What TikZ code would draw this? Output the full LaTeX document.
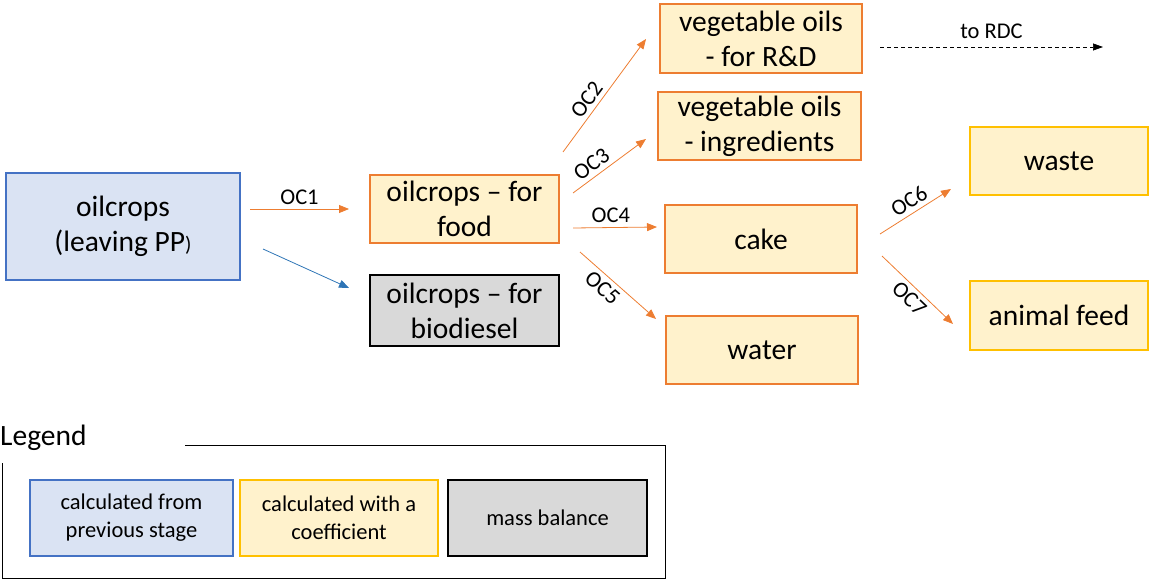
\documentclass[tikz,border=0pt]{standalone}
\usepackage{fontspec}
\setmainfont{Carlito}
\usetikzlibrary{arrows.meta}
\definecolor{bluefill}{HTML}{DAE3F3}
\definecolor{blueline}{HTML}{4472C4}
\definecolor{creamfill}{HTML}{FFF2CC}
\definecolor{orangeline}{HTML}{ED7D31}
\definecolor{goldline}{HTML}{FFC000}
\definecolor{grayfill}{HTML}{D9D9D9}
\definecolor{arrowblue}{HTML}{2E75B6}
\begin{document}
\begin{tikzpicture}[x=1pt,y=-1pt,
  box/.style={line width=1.3pt, align=center, inner sep=0pt,
    font=\fontsize{29.5}{35}\selectfont},
  prevbox/.style={box, draw=blueline, fill=bluefill},
  coefbox/.style={box, draw=orangeline, fill=creamfill},
  goldbox/.style={box, draw=goldline, fill=creamfill},
  massbox/.style={box, draw=black, fill=grayfill},
  legbox/.style={line width=1.3pt, align=center, inner sep=0pt,
    minimum height=76, font=\fontsize{22.5}{28}\selectfont},
  flow/.style={line width=0.8pt, draw=orangeline,
    -{Triangle[length=10pt,width=8pt]}},
  oclabel/.style={font=\fontsize{22.5}{24}\selectfont, inner sep=4pt}]
\useasboundingbox (0,0) rectangle (1150,580);

% process stages
\node[prevbox, minimum width=234, minimum height=107] (pp) at (123,226.5)
  {oilcrops\\(leaving PP{\fontsize{21}{22}\selectfont)}};
\node[coefbox, minimum width=189, minimum height=68] (food) at (464.5,209)
  {oilcrops -- for\\food};
\node[massbox, minimum width=189, minimum height=71] (bio) at (464.5,310.5)
  {oilcrops -- for\\biodiesel};
\node[coefbox, minimum width=202, minimum height=69] (rd) at (761,38.5)
  {vegetable oils\\- for R\&D};
\node[coefbox, minimum width=203, minimum height=68] (ingr) at (759.5,126)
  {vegetable oils\\- ingredients};
\node[coefbox, minimum width=192, minimum height=68] (cake) at (761,239)
  {cake};
\node[coefbox, minimum width=192, minimum height=68] (water) at (762,350)
  {water};
\node[goldbox, minimum width=178, minimum height=68] (waste) at (1059,161)
  {waste};
\node[goldbox, minimum width=178, minimum height=69] (feed) at (1059,315.5)
  {animal feed};

% connector end points
\coordinate (oc1s) at (250,209);  \coordinate (oc1e) at (349,209);
\coordinate (bls)  at (263,249);  \coordinate (ble)  at (349,288);
\coordinate (oc2s) at (563,152);  \coordinate (oc2e) at (646,39);
\coordinate (oc3s) at (573,193);  \coordinate (oc3e) at (646,139);
\coordinate (oc4s) at (573,228);  \coordinate (oc4e) at (657,227);
\coordinate (oc5s) at (580,252);  \coordinate (oc5e) at (656,319);
\coordinate (oc6s) at (880,234);  \coordinate (oc6e) at (951,189);
\coordinate (oc7s) at (882,256);  \coordinate (oc7e) at (953,324);
\coordinate (rdcs) at (880,47);   \coordinate (rdce) at (1103,47);

% flows
\draw[flow] (oc1s) -- node[oclabel, above] {OC1} (oc1e);
\draw[line width=0.8pt, draw=arrowblue, -{Triangle[length=10pt,width=8pt]}]
  (bls) -- (ble);
\draw[flow] (oc2s) -- node[oclabel, sloped, above, pos=0.4] {OC2} (oc2e);
\draw[flow] (oc3s) -- node[oclabel, sloped, above, pos=0.35] {OC3} (oc3e);
\draw[flow] (oc4s) -- node[oclabel, above, pos=0.45] {OC4} (oc4e);
\draw[flow] (oc5s) -- node[oclabel, sloped, below, pos=0.4] {OC5} (oc5e);
\draw[flow] (oc6s) -- node[oclabel, sloped, above, pos=0.5] {OC6} (oc6e);
\draw[flow] (oc7s) -- node[oclabel, sloped, below, pos=0.5] {OC7} (oc7e);
\draw[line width=0.7pt, dash pattern=on 4pt off 3pt,
  -{Triangle[length=10pt,width=7pt]}]
  (rdcs) -- node[oclabel, above=4pt] {to RDC} (rdce);

% legend
\node[anchor=west, inner sep=0pt, font=\fontsize{29.5}{32}\selectfont]
  (legtitle) at (0,438) {Legend};
\draw[line width=1pt] (185,445) -- (665,445) -- (665,578) -- (2,578) -- (2,463);
\node[legbox, draw=blueline, fill=bluefill, minimum width=203] (legprev)
  at (131.5,518) {calculated from\\previous stage};
\node[legbox, draw=goldline, fill=creamfill, minimum width=198] (legcoef)
  at (339,518) {calculated with a\\coefficient};
\node[legbox, draw=black, fill=grayfill, minimum width=199] (legmass)
  at (547.5,518) {mass balance};
\end{tikzpicture}
\end{document}
